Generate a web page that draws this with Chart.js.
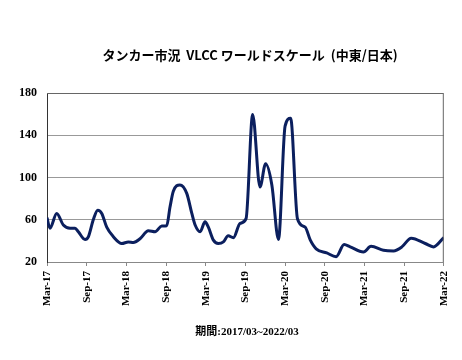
<!DOCTYPE html>
<html>
<head>
<meta charset="utf-8">
<script src="https://cdn.jsdelivr.net/npm/chart.js@4"></script>
<style>
  html, body { margin: 0; padding: 0; background: #fff; }
  #wrap { width: 462px; height: 360px; position: relative; }
</style>
</head>
<body>
<div id="wrap"><canvas id="chart"></canvas></div>
<script>
// months counted from Mar-17 (0) to Mar-22 (60)
const months = [0, 0.45, 1.47, 2.47, 3.48, 4.24, 4.74, 5.75, 6.25, 7.0, 7.67, 8.28, 9.03, 10.03,
  11.3, 12.3, 13.06, 14.07, 15.33, 16.34, 17.35, 18.1, 18.6, 19.1, 20.1, 21.13, 21.9, 22.4,
  23.15, 23.9, 24.4, 25.16, 25.9, 26.67, 27.4, 28.18, 29.2, 30.1, 31.1, 32.2, 33.06, 34.0,
  35.0, 36.0, 36.84, 37.87, 39.03, 39.8, 40.7, 42.3, 43.72, 44.93, 45.84, 47.85, 49.0,
  50.88, 52.4, 53.66, 55.07, 57.19, 58.44, 60];
const ws = [62, 52, 66, 55, 52, 52, 48.6, 41.3, 43.8, 60, 69, 66, 53, 44,
  37.5, 39, 38.5, 42, 49.5, 48.6, 54, 54.3, 72, 87, 93, 85, 66, 55,
  48.6, 58, 53, 40.7, 37.5, 39, 44.8, 43, 56.6, 61, 159.7, 91, 113, 93,
  41.3, 148.6, 156, 61, 53, 41, 32.5, 28.6, 25, 36.5, 34.3, 29.5, 34.8,
  31.1, 30.5, 34.3, 42.5, 37.5, 34.3, 43.2];
const tickLabels = ['Mar-17', 'Sep-17', 'Mar-18', 'Sep-18', 'Mar-19', 'Sep-19',
  'Mar-20', 'Sep-20', 'Mar-21', 'Sep-21', 'Mar-22'];
const yTicks = [20, 60, 100, 140, 180];

const titleText = 'タンカー市況  VLCC ワールドスケール  (中東/日本)';
const footText = '期間:2017/03~2022/03';

const points = months.map((m, i) => ({ x: m, y: ws[i] }));

const textPlugin = {
  id: 'texts',
  afterDraw(chart) {
    const c = chart.ctx;
    c.save();
    c.fillStyle = '#000';
    c.textAlign = 'center';
    c.textBaseline = 'middle';
    c.font = 'bold 13px "Noto Sans CJK JP", sans-serif';
    c.fillText(titleText, 250, 55);
    c.font = 'bold 11px "Liberation Serif", "Noto Sans CJK JP", serif';
    c.fillText(footText, 247, 332);
    // plot frame
    const a = chart.chartArea;
    c.strokeStyle = '#666';
    c.lineWidth = 1;
    c.beginPath();
    c.moveTo(a.left, a.top + 0.5);
    c.lineTo(a.right - 0.5, a.top + 0.5);
    c.lineTo(a.right - 0.5, a.bottom);
    c.stroke();
    c.restore();
  }
};

new Chart(document.getElementById('chart'), {
  type: 'line',
  data: {
    datasets: [{
      data: points,
      borderColor: '#0b1f5e',
      borderWidth: 3,
      pointRadius: 0,
      fill: false,
      cubicInterpolationMode: 'monotone'
    }]
  },
  options: {
    responsive: true,
    maintainAspectRatio: false,
    animation: false,
    layout: { padding: { top: 93, right: 18, left: 0, bottom: 0 } },
    plugins: { legend: { display: false }, tooltip: { enabled: false } },
    scales: {
      x: {
        type: 'linear',
        min: 0,
        max: 60,
        afterFit(scale) { scale.height = 98; },
        afterBuildTicks(scale) {
          scale.ticks = tickLabels.map((t, i) => ({ value: i * 6 }));
        },
        ticks: {
          autoSkip: false,
          minRotation: 90,
          maxRotation: 90,
          color: '#000',
          padding: 5,
          font: { family: '"Liberation Serif", serif', size: 11, weight: 'bold' },
          callback: (v) => tickLabels[Math.round(v / 6)]
        },
        grid: { display: true, drawOnChartArea: false, drawTicks: true, tickLength: 4, color: '#888' },
        border: { color: '#888', width: 1 }
      },
      y: {
        min: 20,
        max: 180,
        afterFit(scale) { scale.width = 47; },
        afterBuildTicks(scale) {
          scale.ticks = yTicks.map(v => ({ value: v }));
        },
        ticks: {
          color: '#000',
          padding: 10,
          font: { family: '"Liberation Serif", serif', size: 12, weight: 'bold' }
        },
        grid: { color: '#999', drawTicks: false, lineWidth: 1 },
        border: { color: '#333', width: 1 }
      }
    }
  },
  plugins: [textPlugin]
});
</script>
</body>
</html>
